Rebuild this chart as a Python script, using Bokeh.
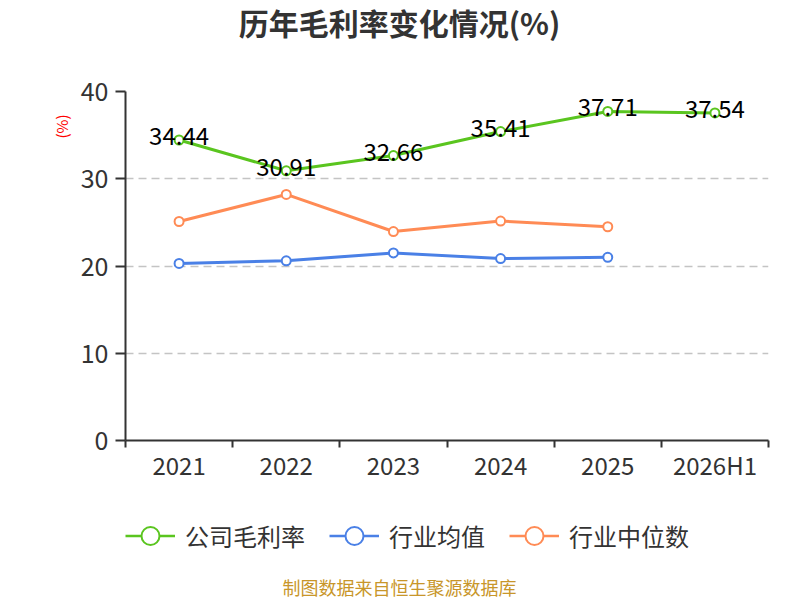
import numpy as np
from bokeh.plotting import figure
from bokeh.layouts import column
from bokeh.embed import file_html
from bokeh.resources import INLINE
from bokeh.models import (ColumnDataSource, FixedTicker, Range1d, Legend, LegendItem,
                          Title, Label)
from bokeh.core.properties import value

FONT = "Noto Sans CJK SC"

# data
years = ["2021", "2022", "2023", "2024", "2025", "2026H1"]
company = [34.44, 30.91, 32.66, 35.41, 37.71, 37.54]
industry_avg = [20.3, 20.6, 21.5, 20.85, 21.0]
industry_median = [25.1, 28.2, 23.95, 25.15, 24.5]
y_ticks = [0, 10, 20, 30, 40]
series_names = ["公司毛利率", "行业均值", "行业中位数"]

GREEN = "#5ac51f"
BLUE = "#4a80e6"
ORANGE = "#ff8b55"
COLORS = [GREEN, BLUE, ORANGE]

xs = np.arange(len(years)) + 0.5

W = 800
BL, BR = 125, 32
FW = W - BL - BR
H0, H1 = 60, 432
H2 = 600 - H0 - H1


def blank(h):
    f = figure(width=W, height=h, output_backend="svg", toolbar_location=None,
               x_range=Range1d(0, FW), y_range=Range1d(0, h), x_axis_type=None,
               y_axis_type=None, min_border_left=BL, min_border_right=BR,
               min_border_top=0, min_border_bottom=0)
    f.outline_line_color = None
    f.grid.grid_line_color = None
    return f


# title panel
t = blank(H0)
t.add_layout(Label(x=274, y=H0 - 21, text="历年毛利率变化情况(%)", text_font=FONT,
                   text_font_size="30px", text_font_style="bold", text_color="#333333",
                   text_align="center", text_baseline="middle"))

# main chart
p = figure(width=W, height=H1, output_backend="svg", toolbar_location=None,
           x_range=Range1d(0, len(years)), y_range=Range1d(0, 40),
           min_border_left=BL, min_border_right=BR, min_border_top=31, min_border_bottom=52)
p.outline_line_color = None
p.xgrid.grid_line_color = None
p.ygrid.ticker = FixedTicker(ticks=y_ticks)
p.ygrid.grid_line_color = "#c4c4c4"
p.ygrid.grid_line_dash = "8 5"
p.ygrid.grid_line_width = 1.5

p.xaxis.ticker = FixedTicker(ticks=list(xs), minor_ticks=list(range(len(years) + 1)))
p.xaxis.major_label_overrides = {float(x): y for x, y in zip(xs, years)}
p.xaxis.major_tick_line_color = None
p.xaxis.minor_tick_in = 0
p.xaxis.minor_tick_out = 7
p.xaxis.minor_tick_line_color = "#333333"
p.xaxis.minor_tick_line_width = 2
p.xaxis.major_label_text_font_size = "24px"
p.xaxis.major_label_standoff = -1
p.yaxis.ticker = FixedTicker(ticks=y_ticks)
p.yaxis.minor_tick_line_color = None
p.yaxis.major_tick_in = 0
p.yaxis.major_tick_out = 10
p.yaxis.major_tick_line_color = "#333333"
p.yaxis.major_tick_line_width = 2
p.yaxis.major_label_text_font_size = "25px"
p.yaxis.major_label_standoff = 7
for ax in (p.xaxis, p.yaxis):
    ax.axis_line_color = "#333333"
    ax.axis_line_width = 2
    ax.major_label_text_font = FONT
    ax.major_label_text_color = "#333333"

for vals, color in zip([company, industry_avg, industry_median], COLORS):
    src = ColumnDataSource(dict(x=xs[:len(vals)], y=vals))
    p.line("x", "y", source=src, line_color=color, line_width=3)
    p.scatter("x", "y", source=src, size=9, fill_color="white",
              line_color=color, line_width=2)

# data labels for company
lab_src = ColumnDataSource(dict(x=xs, y=company, t=[f"{v:.2f}" for v in company]))
p.text("x", "y", text="t", source=lab_src, text_align="center", text_baseline="middle",
       y_offset=-4, text_font_size="24px", text_color="#000000", text_font=value(FONT))

# y axis unit
p.add_layout(Title(text="(%)", align="right", offset=23, text_color="red", text_font=FONT,
                   text_font_size="15px", text_font_style="normal", standoff=12), "left")

# legend + footer panel
q = blank(H2)
items = []
for name, color in zip(series_names, COLORS):
    src = ColumnDataSource(dict(x=[-100], y=[-100]))
    r1 = q.line("x", "y", source=src, line_color=color, line_width=2.5)
    r2 = q.scatter("x", "y", source=src, size=9, fill_color="white",
                   line_color=color, line_width=2)
    items.append(LegendItem(label=name, renderers=[r1, r2]))

legend = Legend(items=items, orientation="horizontal", location=(0, 42),
                label_text_font=FONT, label_text_font_size="24px",
                label_text_color="#333333", glyph_width=50, glyph_height=45,
                spacing=24, label_standoff=10, border_line_color=None,
                background_fill_alpha=0, padding=0, margin=0)
q.add_layout(legend, "center")

q.add_layout(Label(x=274, y=14, text="制图数据来自恒生聚源数据库", text_font=FONT,
                   text_font_size="18px", text_color="#c8962a",
                   text_align="center", text_baseline="middle"))

open("out.html", "w").write(file_html(column(t, p, q, spacing=0), INLINE))
